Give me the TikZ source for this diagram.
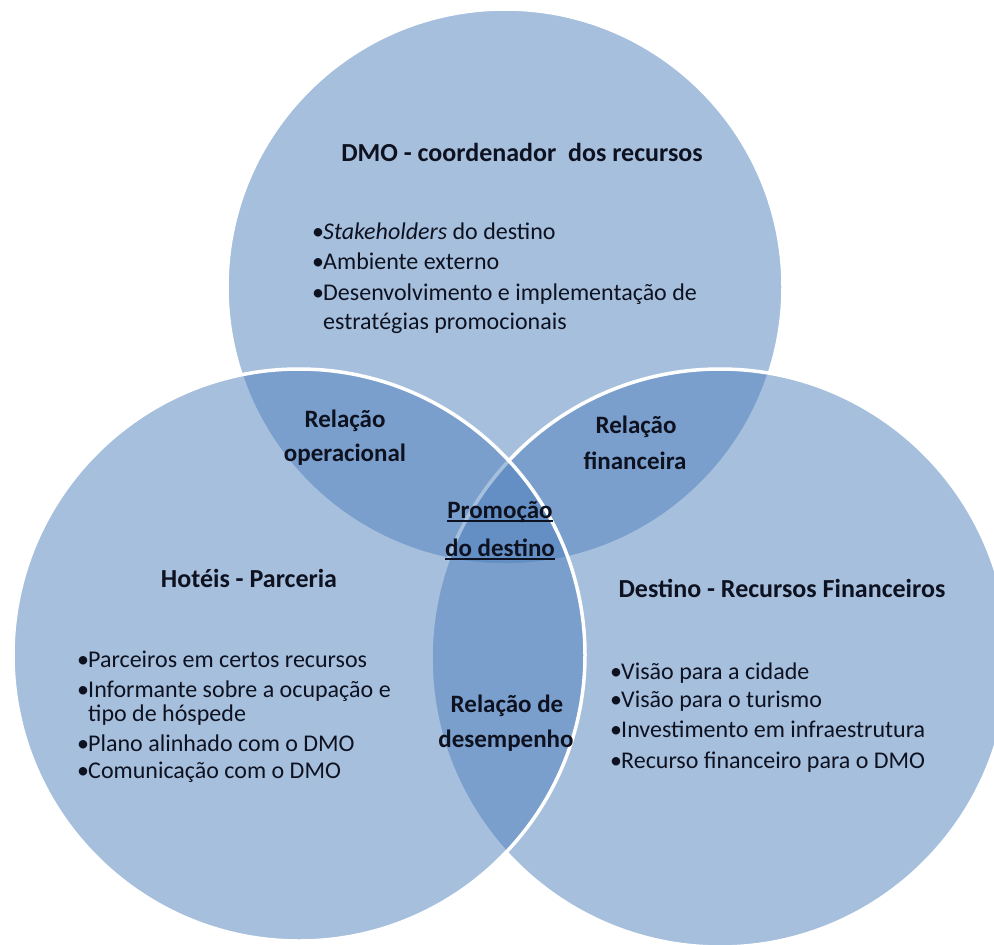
\documentclass[tikz,border=0pt]{standalone}
\usepackage{fontspec}
\setmainfont{Carlito}

\definecolor{vennblue}{RGB}{79,129,189}
\definecolor{ink}{RGB}{14,18,32}

% bullet with fixed advance, and the matching indent for wrapped lines
\newcommand\bul{\makebox[11pt][l]{•}}
\newcommand\cont{\hspace*{11pt}}
% underline drawn a little below the baseline
\newcommand\ulined[1]{\setbox0\hbox{#1}\rlap{\rule[-4pt]{\wd0}{1.8pt}}\box0}

\tikzset{
  vennset/.style={fill=vennblue, fill opacity=0.5, draw=white, draw opacity=1, line width=3.5pt},
  head/.style={anchor=base, inner sep=0pt, text=ink, font=\fontsize{26}{30}\selectfont\bfseries},
  rel/.style={anchor=base, inner sep=0pt, text=ink, font=\fontsize{25}{30}\selectfont\bfseries},
  item/.style={anchor=base west, inner sep=0pt, text=ink, font=\fontsize{24}{28}\selectfont},
}

\begin{document}
\begin{tikzpicture}[x=1pt,y=-1pt]
\useasboundingbox (0,0) rectangle (994,945);
\fill[white] (0,0) rectangle (994,945);

% the three sets: top, right, then left on top of the others
\path[vennset] (505,287) circle (278pt);
\path[vennset] (720,658) circle (289pt);
\path[vennset] (299,655) circle (286pt);

% set titles
\node[head] (dmo) at (522,161) {DMO - coordenador\ \ dos recursos};
\node[head] (hot) at (249,587) {Hotéis - Parceria};
\node[head] (des) at (782,597) {Destino - Recursos Financeiros};

% DMO items
\node[item] (d1) at (312,239) {\bul\textit{Stakeholders} do destino};
\node[item] (d2) at (312,269) {\bul Ambiente externo};
\node[item] (d3) at (312,300) {\bul Desenvolvimento e implementação de};
\node[item] (d4) at (312,329) {\cont estratégias promocionais};

% hotel items
\node[item] (h1) at (77,667) {\bul Parceiros em certos recursos};
\node[item] (h2) at (77,697) {\bul Informante sobre a ocupação e};
\node[item] (h3) at (77,721) {\cont tipo de hóspede};
\node[item] (h4) at (77,751) {\bul Plano alinhado com o DMO};
\node[item] (h5) at (77,778) {\bul Comunicação com o DMO};

% destination items
\node[item] (r1) at (610,679) {\bul Visão para a cidade};
\node[item] (r2) at (610,707) {\bul Visão para o turismo};
\node[item] (r3) at (610,737) {\bul Investimento em infraestrutura};
\node[item] (r4) at (610,768) {\bul Recurso financeiro para o DMO};

% overlap labels
\node[rel] (op1) at (345,427) {Relação};
\node[rel] (op2) at (345,461) {operacional};
\node[rel] (fi1) at (636,433) {Relação};
\node[rel] (fi2) at (635,469) {financeira};
\node[rel] (pr1) at (500,518) {\ulined{Promoção}};
\node[rel] (pr2) at (500,556) {\ulined{do destino}};
\node[rel] (de1) at (507,712) {Relação de};
\node[rel] (de2) at (506,747) {desempenho};
\end{tikzpicture}
\end{document}
